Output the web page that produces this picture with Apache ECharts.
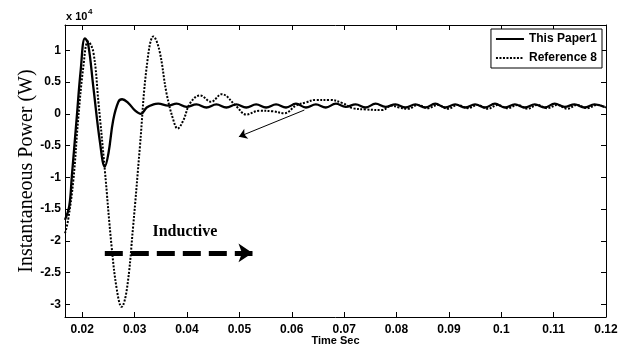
<!DOCTYPE html>
<html>
<head>
<meta charset="utf-8">
<script src="https://cdn.jsdelivr.net/npm/echarts@6/dist/echarts.min.js"></script>
<style>
  html, body { margin: 0; padding: 0; background: #fff; }
  #main { width: 626px; height: 347px; }
</style>
</head>
<body>
<div id="main"></div>
<script>
// values are in units of 1e4 W
var paperT = [0.0167, 0.0175, 0.0180, 0.0189, 0.0197, 0.0205, 0.0211, 0.0221, 0.0234, 0.0243,
  0.0250, 0.0259, 0.0269, 0.0276, 0.0288, 0.0301, 0.0312, 0.0323, 0.0336, 0.0345,
  0.0364, 0.0380, 0.0399, 0.0418, 0.0437, 0.0456, 0.0475, 0.0494, 0.0513, 0.0532,
  0.0551, 0.0570, 0.0589, 0.0608, 0.0627, 0.0646, 0.0665, 0.0684, 0.0703, 0.0722,
  0.0741, 0.0760, 0.0779, 0.0798, 0.0817, 0.0836, 0.0855, 0.0874, 0.0893, 0.0912,
  0.0931, 0.0950, 0.0969, 0.0988, 0.1007, 0.1026, 0.1045, 0.1064, 0.1083, 0.1102,
  0.1121, 0.1140, 0.1159, 0.1178, 0.1197];
var paperV = [-1.67, -1.46, -0.99, -0.10, 0.69, 1.19, 1.11, 0.43, -0.46, -0.83,
  -0.62, -0.10, 0.19, 0.23, 0.17, 0.05, 0.00, 0.10, 0.15, 0.16,
  0.13, 0.16, 0.11, 0.15, 0.10, 0.15, 0.10, 0.15, 0.10, 0.15,
  0.10, 0.15, 0.10, 0.16, 0.10, 0.15, 0.10, 0.16, 0.11, 0.15,
  0.10, 0.16, 0.11, 0.15, 0.10, 0.15, 0.10, 0.16, 0.10, 0.15,
  0.10, 0.15, 0.10, 0.16, 0.10, 0.15, 0.10, 0.15, 0.10, 0.16,
  0.11, 0.15, 0.10, 0.15, 0.11];

var refT = [0.0167, 0.0173, 0.0183, 0.0192, 0.0202, 0.0211, 0.0221, 0.0231, 0.0243, 0.0256,
  0.0266, 0.0275, 0.0285, 0.0297, 0.0310, 0.0323, 0.0336, 0.0347, 0.0361, 0.0374,
  0.0382, 0.0393, 0.0406, 0.0425, 0.0446, 0.0466, 0.0494, 0.0513, 0.0538, 0.0564,
  0.0586, 0.0608, 0.0627, 0.0645, 0.0672, 0.0697, 0.0716, 0.0742, 0.0773, 0.0790,
  0.0805, 0.0822, 0.0841, 0.0860, 0.0879, 0.0898, 0.0917, 0.0936, 0.0955, 0.0974,
  0.0993, 0.1012, 0.1031, 0.1050, 0.1069, 0.1088, 0.1107, 0.1126, 0.1145, 0.1164,
  0.1183, 0.1200];
var refV = [-1.88, -1.67, -1.04, -0.10, 0.74, 1.14, 0.98, 0.17, -0.88, -2.09,
  -2.77, -3.04, -2.77, -1.78, -0.52, 0.74, 1.22, 1.01, 0.32, -0.10,
  -0.23, -0.10, 0.17, 0.29, 0.19, 0.31, 0.12, -0.01, 0.05, 0.04,
  0.01, 0.13, 0.18, 0.22, 0.22, 0.17, 0.09, 0.07, 0.06, 0.13,
  0.10, 0.08, 0.14, 0.09, 0.14, 0.08, 0.14, 0.09, 0.14, 0.08,
  0.14, 0.09, 0.14, 0.08, 0.14, 0.09, 0.14, 0.08, 0.14, 0.09,
  0.14, 0.10];

var xTicks = [0.02, 0.03, 0.04, 0.05, 0.06, 0.07, 0.08, 0.09, 0.10, 0.11, 0.12];
var yTicks = [-3, -2.5, -2, -1.5, -1, -0.5, 0, 0.5, 1];

// annotation anchors (data space)
var inductiveArrow = [[0.0243, -2.19], [0.0525, -2.19]];
var pointerArrow = [[0.0624, 0.06], [0.0499, -0.36]];
var inductiveLabel = [0.0396, -1.86];

function zip(t, v) {
  var out = [];
  for (var i = 0; i < t.length; i++) out.push([t[i], v[i]]);
  return out;
}

var labelFont = { color: '#000', fontSize: 12, fontWeight: 'bold', fontFamily: 'Liberation Sans, Arial' };

var myChart = echarts.init(document.getElementById('main'));
myChart.setOption({
  animation: false,
  backgroundColor: '#fff',
  grid: { left: 65, right: 20, top: 25, bottom: 30, outerBoundsMode: 'none', containLabel: false },
  graphic: [
    { type: 'text', left: 66, top: 11, style: { text: 'x 10', fontSize: 11, fontWeight: 'bold', fontFamily: 'Liberation Sans, Arial', fill: '#000' } },
    { type: 'text', left: 88, top: 8, style: { text: '4', fontSize: 8, fontWeight: 'bold', fontFamily: 'Liberation Sans, Arial', fill: '#000' } }
  ],
  legend: {
    data: ['This Paper1', 'Reference 8'],
    orient: 'vertical',
    right: 24,
    top: 29,
    itemWidth: 28,
    itemHeight: 12,
    itemGap: 7,
    padding: [4, 5, 4, 4],
    borderColor: '#000',
    borderWidth: 1,
    backgroundColor: '#fff',
    itemStyle: { opacity: 0 },
    textStyle: { color: '#000', fontSize: 12, fontWeight: 'bold', fontFamily: 'Liberation Sans, Arial' }
  },
  xAxis: [{
    type: 'value',
    min: 0.0167, max: 0.12,
    name: 'Time Sec',
    nameLocation: 'middle',
    nameGap: 18,
    nameMoveOverlap: false,
    nameTextStyle: { color: '#000', fontSize: 11, fontWeight: 'bold', fontFamily: 'Liberation Sans, Arial', verticalAlign: 'top' },
    axisLine: { onZero: false, lineStyle: { color: '#000', width: 1 } },
    axisTick: { inside: true, length: 5, customValues: xTicks, lineStyle: { color: '#000' } },
    axisLabel: Object.assign({ margin: 7, customValues: xTicks, formatter: function (v) { return String(+v.toFixed(2)); } }, labelFont),
    splitLine: { show: false }
  }, {
    type: 'value',
    position: 'top',
    min: 0.0167, max: 0.12,
    axisLine: { onZero: false, lineStyle: { color: '#000', width: 1 } },
    axisTick: { inside: true, length: 5, customValues: xTicks, lineStyle: { color: '#000' } },
    axisLabel: { show: false },
    splitLine: { show: false }
  }],
  yAxis: [{
    type: 'value',
    min: -3.2, max: 1.4,
    name: 'Instantaneous Power (W)',
    nameLocation: 'middle',
    nameGap: 28,
    nameMoveOverlap: false,
    nameTextStyle: { color: '#000', fontSize: 20, fontFamily: 'Liberation Serif, Times New Roman' },
    axisLine: { onZero: false, lineStyle: { color: '#000', width: 1 } },
    axisTick: { inside: true, length: 5, customValues: yTicks, lineStyle: { color: '#000' } },
    axisLabel: Object.assign({ margin: 4, customValues: yTicks }, labelFont),
    splitLine: { show: false }
  }, {
    type: 'value',
    position: 'right',
    min: -3.2, max: 1.4,
    axisLine: { onZero: false, lineStyle: { color: '#000', width: 1 } },
    axisTick: { inside: true, length: 5, customValues: yTicks, lineStyle: { color: '#000' } },
    axisLabel: { show: false },
    splitLine: { show: false }
  }],
  series: [{
    name: 'This Paper1',
    type: 'line',
    z: 3,
    data: zip(paperT, paperV),
    showSymbol: false,
    symbol: 'none',
    smooth: 0.4,
    color: '#000',
    lineStyle: { color: '#000', width: 2.3 },
    markLine: {
      silent: true,
      animation: false,
      label: { show: false },
      data: [
        [{ coord: inductiveArrow[0], symbol: 'none', lineStyle: { type: [18, 8], width: 5, color: '#000', cap: 'butt' } },
         { coord: inductiveArrow[1], symbol: 'arrow', symbolSize: 14 }],
        [{ coord: pointerArrow[0], symbol: 'none', lineStyle: { type: 'solid', width: 1, color: '#000' } },
         { coord: pointerArrow[1], symbol: 'arrow', symbolSize: 8 }]
      ]
    },
    markPoint: {
      silent: true,
      animation: false,
      symbol: 'circle',
      symbolSize: 0,
      data: [{
        coord: inductiveLabel,
        label: { show: true, position: 'inside', formatter: 'Inductive', color: '#000', fontSize: 16, fontWeight: 'bold', fontFamily: 'Liberation Serif, Times New Roman' }
      }]
    }
  }, {
    name: 'Reference 8',
    type: 'line',
    z: 2,
    data: zip(refT, refV),
    showSymbol: false,
    symbol: 'none',
    smooth: 0.4,
    color: '#000',
    lineStyle: { color: '#000', width: 2, type: [2, 1.5] }
  }]
});
</script>
</body>
</html>
